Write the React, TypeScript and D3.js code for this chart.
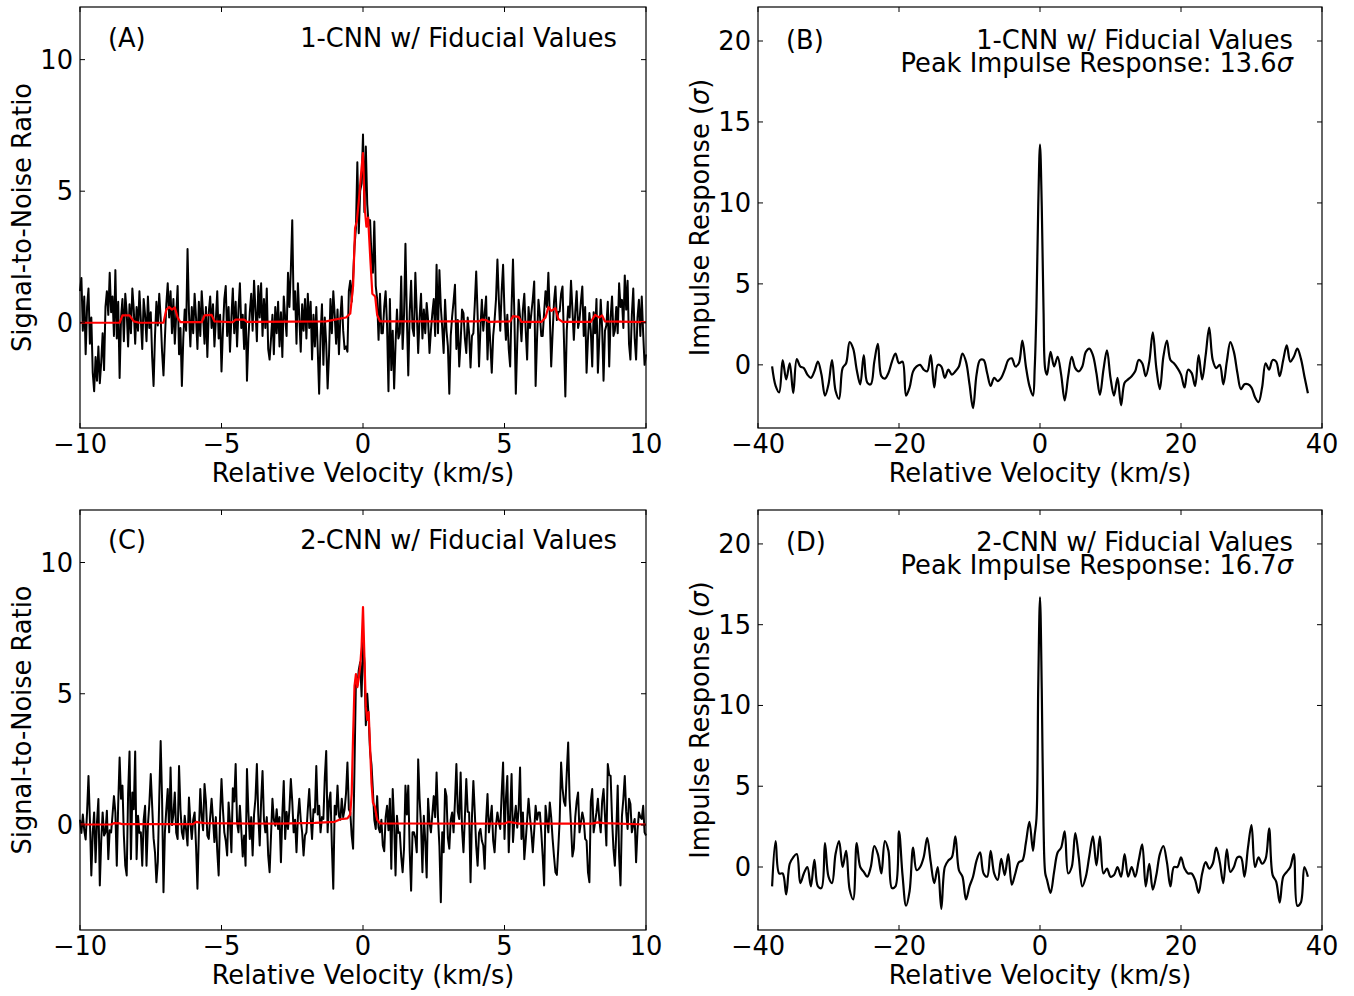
import React from 'react';
import * as d3 from 'd3';

// ---------- DATA ----------
// Panels A / C: velocity grid -10..10 km/s, step 0.05
const snrStart = -10;
const snrStep = 0.05;

const snrA = [
  1.2, 1.7, -0.3, 1.0, -1.2, 0.6, 1.3, -0.8, 0.2, -1.9, -2.6, -1.3, -2.2, -0.9, -2.3, -1.5, -0.4, -1.8, 0.6, 1.2,
  0.3, 1.9, 0.4, 1.0, -0.5, 2.0, -0.6, 0.8, -2.1, 0.2, 0.9, -0.7, 1.1, 0.4, -0.9, 0.7, -0.4, 1.3, 0.5, -0.8,
  0.6, -0.3, 1.2, 0.1, -1.0, 0.9, 0.3, -0.7, 1.0, -0.2, 0.4, -1.3, -2.4, -0.5, 0.8, -0.1, 1.1, 0.2, -1.1, -2.0,
  -0.6, 0.7, 1.5, 0.2, 1.2, -0.4, 0.9, -0.8, 0.3, 1.4, -1.2, -0.2, -2.4, -0.6, 0.5, -0.3, 2.8, 0.4, -0.9, 0.6,
  -0.4, 1.1, 0.2, -1.0, 0.8, -0.5, 1.2, 0.3, -0.8, 0.6, -1.3, 0.4, 1.0, -0.2, 0.7, -0.9, 0.1, 1.2, -0.6, 0.3,
  -1.85, -0.3, 0.9, 1.4, -0.5, 0.6, -1.1, 0.2, 1.3, -0.4, 0.8, -0.9, 0.5, 1.5, -0.2, 0.3, -1.0, 0.7, -2.2, -0.6,
  0.4, 1.1, -0.3, 1.6, 0.5, -0.7, 1.4, 0.2, 1.5, -0.5, 0.9, -0.2, 1.3, -1.0, -1.4, -0.6, 0.3, -1.2, 0.6, -0.4,
  0.8, -0.9, 0.4, -1.3, 1.0, 0.2, -0.5, 1.9, 0.6, 2.0, 3.9, 0.5, 1.2, -0.8, 1.5, 0.2, -1.1, 0.7, -0.3, 0.9,
  -0.6, 1.1, -0.2, 0.8, -1.4, 0.3, -0.9, 0.6, -1.0, -2.7, -0.5, 0.7, -1.6, 0.2, -0.8, -2.5, -1.2, 0.9, -0.4, 1.2,
  0.3, -0.8, 0.5, -1.2, 0.2, 1.0, -0.3, -1.0, -0.9, -1.1, 1.2, 1.6, 0.8, 1.7, 2.9, 3.6, 6.1, 3.4, 5.0, 5.3,
  7.15, 4.2, 6.7, 4.5, 3.7, 3.9, 2.5, 1.9, 3.85, 1.4, 0.9, -0.65, 1.1, -0.4, -0.4, 0.6, 1.2, -0.1, -2.6, 0.9,
  -1.8, -0.3, -2.5, -0.8, 0.5, -0.6, -0.4, 1.76, -1.0, 0.3, 3.0, 0.2, -2.0, 0.4, 1.6, -0.2, -0.5, 1.9, 0.4, -1.15,
  0.2, 1.1, -0.6, 0.5, -0.4, 0.75, 0.1, -1.15, -0.3, 0.37, 0.9, -0.5, 2.2, -0.4, 2.0, 0.6, -0.2, -1.15, 0.87, -0.3,
  -0.9, -2.7, -0.5, 0.24, 0.8, 1.44, -1.0, 0.1, -1.66, -0.7, 0.5, 0.37, -0.6, -1.15, 0.2, -0.4, -1.7, -0.5, -0.4, 0.7,
  1.95, 0.3, -1.66, -0.2, 0.87, -0.3, 0.37, 1.0, -1.4, 0.2, -0.8, -1.9, -0.5, 0.1, 0.9, 2.4, 0.87, -0.3, 1.2, 2.2,
  0.4, -0.65, 0.3, -1.0, -1.66, 0.6, 2.4, 0.24, -2.7, -0.8, 0.87, 0.2, -0.7, 0.5, 1.1, -0.3, -1.4, 0.6, -0.2, 0.37,
  0.9, 1.57, -2.4, -0.6, 0.87, 0.3, -0.5, -0.5, 0.4, 1.2, 0.6, 1.9, 0.3, -1.66, -0.4, 0.8, 1.38, 0.1, 0.4, 0.43,
  1.1, 1.38, -0.6, -2.8, -0.3, 0.62, 0.2, 1.6, 0.5, -0.65, 0.4, 1.2, -0.2, 0.1, 0.8, 1.38, -0.5, 0.6, -1.9, -0.6,
  0.37, -0.3, -1.66, 0.4, -0.4, 0.9, -1.9, -0.6, 0.87, -0.2, -2.2, -0.3, -0.1, 0.8, -1.66, 0.2, 1.0, -0.5, -0.3, 0.6,
  -0.4, 1.5, 0.6, 0.87, -0.2, 1.8, 0.5, 1.6, -0.8, -1.4, 0.3, 1.3, -0.6, -1.4, 0.2, 0.87, -0.5, 1.0, -0.4, -1.6,
  -1.2,
];

const snrC = [
  0.2, -0.3, 0.4, -0.2, -0.55, 0.5, 1.87, 0.2, -1.92, -0.3, 0.48, -1.42, 0.1, 0.99, -2.3, -0.6, 0.48, -0.4, -0.28, 0.54,
  -1.3, -0.2, -0.28, 0.4, 1.1, 0.48, -1.55, 0.8, 2.57, 1.0, 1.5, -0.4, -1.55, -1.92, 1.2, 2.8, -1.3, 1.24, 0.6, 2.8,
  -1.3, 0.35, -0.3, -0.28, -1.55, 0.2, 0.73, -1.55, 0.0, 0.8, 1.94, 0.73, -0.5, -1.04, -2.18, -1.4, 1.0, 3.2, 1.0, -2.56,
  -0.28, 0.6, 1.37, -0.28, 2.19, 0.0, 0.4, 1.24, -0.3, -0.53, 2.25, 0.6, -0.28, -0.53, 0.35, -0.2, -0.78, 1.05, 0.1, -0.53,
  0.2, 0.48, -0.8, -2.43, -0.3, 1.37, 0.35, -0.2, 1.56, 0.9, -0.4, -0.53, 0.3, 1.0, 0.2, -0.65, 0.3, -1.0, -1.92, 0.4,
  1.75, 0.6, -0.28, -0.6, -1.16, 0.86, 0.1, -1.04, 1.4, 0.9, 2.32, 0.1, -0.28, 0.73, -0.2, -1.2, -0.4, -1.55, 2.13, 0.5,
  -0.53, 0.3, -1.16, 0.4, 1.0, 2.32, 0.4, -0.78, 0.9, 2.06, 0.2, -0.28, 0.3, -1.16, -1.8, -0.4, 1.0, 0.2, -0.03, 0.6,
  -0.15, 0.3, -1.42, 0.4, 1.68, -0.53, 0.5, -0.15, 0.6, 1.75, 0.9, -0.28, 0.2, -1.04, 0.3, 1.0, 0.2, -0.28, -1.16, -0.4,
  -0.28, 0.6, 1.37, 0.3, -0.53, 0.6, 0.48, 2.25, 0.4, 0.73, -0.28, 0.3, 0.23, 1.8, 2.82, -0.28, 0.9, 1.24, -0.8, -2.43,
  0.73, 0.4, 1.5, 0.35, 0.2, 1.0, 0.3, 0.6, 1.2, 2.38, 0.6, 0.48, -0.4, -0.9, 2.25, 5.5, 5.3, 5.9, 6.2, 4.9,
  7.0, 6.2, 3.8, 5.0, 4.1, 2.8, 2.3, 1.3, 0.2, -0.15, 1.1, -0.1, -0.28, 0.2, -0.78, -1.0, 0.3, 0.73, -0.2, 1.0,
  -1.67, 1.37, 0.1, -1.92, 0.35, -0.3, -0.28, -1.2, -1.8, -0.9, 1.5, 0.4, 1.5, -1.0, -2.5, -0.28, -0.28, -0.5, -1.04, 2.5,
  1.0, 0.0, -1.8, 0.35, -0.6, -2.0, 1.0, 0.1, -0.28, 0.4, 1.1, 0.3, 2.0, 0.3, -0.8, -2.94, -0.28, -1.04, 1.37, 1.1,
  -0.5, -0.9, 0.2, 0.48, -0.28, 0.9, 2.32, 0.5, 0.23, 2.0, -0.15, -1.04, 0.3, 1.75, 0.5, 0.48, -2.18, 0.3, 1.68, 0.48,
  -0.8, -1.55, -0.3, -0.15, -0.6, -0.78, -1.67, 0.2, 1.18, -0.28, 0.2, 0.73, -0.6, -1.04, 0.0, 0.48, 0.1, -0.15, 1.2, 2.38,
  -0.53, 1.0, 1.87, -1.04, 0.4, 1.94, -0.65, 0.2, 0.73, -0.1, 0.6, 2.19, -0.53, 0.48, -1.3, -0.6, 0.2, 1.0, 0.3, -0.28,
  -1.04, -0.2, 0.73, 0.2, 0.48, 0.48, -0.28, -1.2, -2.3, 0.73, 0.2, -0.28, 0.86, 0.3, -0.53, -1.2, -1.8, -1.9, -0.9, 0.2,
  2.38, 1.4, 0.9, 0.73, 2.0, 3.14, 1.0, 0.0, -1.2, -0.9, 0.3, 0.9, 1.24, -0.28, 0.1, 0.48, 0.2, -0.53, -0.6, -1.8,
  -2.18, 0.9, 1.37, -0.28, 0.1, 0.48, 1.0, 0.2, -0.28, 0.9, 1.37, 0.35, -0.78, 2.32, 1.9, 1.87, 0.23, -0.9, -1.55, -0.28,
  1.5, -1.2, -2.3, 0.35, 1.0, 1.87, 0.5, -0.15, 1.0, 0.8, -0.28, 0.0, 0.23, -1.42, -0.2, 0.48, 0.3, 0.23, 0.73, -0.28,
  -0.4,
];

// Red model fits (velocity, S/N) knots
const modelAV = [-10, -8.6, -8.5, -8.25, -8.1, -7.9, -7.05, -6.95, -6.85, -6.75, -6.65, -6.55, -6.45, -5.7, -5.6, -5.35, -5.25, -4.6, -4.5, -4.2, -4.1, -1.3, -1.0, -0.6, -0.45, -0.35, -0.28, -0.22, -0.15, -0.05, 0.0, 0.06, 0.12, 0.18, 0.26, 0.33, 0.43, 0.5, 0.6, 4.1, 4.2, 4.35, 4.45, 5.2, 5.3, 5.5, 5.6, 6.3, 6.45, 6.55, 6.65, 6.8, 6.9, 7.05, 8.05, 8.2, 8.35, 8.45, 8.55, 10];
const modelAS = [0, 0, 0.28, 0.28, 0.05, 0, 0, 0.5, 0.6, 0.5, 0.58, 0.2, 0.02, 0.02, 0.28, 0.3, 0.05, 0.02, 0.12, 0.12, 0.03, 0.05, 0.12, 0.2, 0.35, 1.4, 3.6, 3.85, 4.6, 5.9, 6.45, 4.4, 3.65, 4.0, 2.4, 1.1, 1.0, 0.3, 0.05, 0.05, 0.12, 0.1, 0.03, 0.05, 0.25, 0.22, 0.03, 0.03, 0.2, 0.6, 0.45, 0.55, 0.15, 0.03, 0.03, 0.3, 0.2, 0.28, 0.05, 0.02];

const modelCV = [-10, -8.9, -8.8, -8.6, -8.5, -6.0, -5.9, -5.8, -5.6, -3.0, -1.7, -1.0, -0.8, -0.55, -0.45, -0.4, -0.35, -0.3, -0.25, -0.2, -0.15, -0.1, -0.05, 0.0, 0.05, 0.1, 0.15, 0.2, 0.25, 0.3, 0.35, 0.42, 0.5, 0.6, 5.0, 5.15, 5.3, 5.5, 8.1, 8.3, 8.5, 10];
const modelCS = [0.02, 0.02, 0.07, 0.06, 0.03, 0.03, 0.12, 0.1, 0.07, 0.05, 0.08, 0.12, 0.22, 0.25, 0.4, 1.2, 3.4, 5.3, 5.75, 5.25, 5.6, 6.05, 6.8, 8.3, 6.4, 4.5, 4.0, 4.3, 3.0, 1.6, 0.86, 0.7, 0.2, 0.06, 0.05, 0.12, 0.09, 0.05, 0.05, 0.1, 0.07, 0.02];

// Panels B / D: velocity grid -38..38 km/s, step 0.5 (+ extra samples across the peak)
const impStart = -38;
const impStep = 0.5;

const impB = [
  -0.1, -1.3, -1.7, 0.3, -0.9, 0.1, -1.75, 0.35, -0.1, -0.2, -0.6, -0.8, -0.4, 0.2, -0.6, -1.9, -1.2, 0.3, -1.6, -2.1,
  -0.2, 0.1, 1.4, 1.0, -0.3, -1.2, 0.6, -1.1, -1.2, 0.2, 1.3, -0.7, -0.85, -0.5, 0.2, 0.7, 0.1, 0.2, -1.9, -1.4,
  -0.4, -0.1, 0.0, -0.3, -0.4, 0.6, -1.4, 0.0, -0.1, -0.8, -0.3, -0.6, -0.4, -0.1, 0.7, 0.2, -1.2, -2.67, -0.6, 0.3,
  0.3, -0.5, -1.3, -0.8, -1.0, -0.8, -0.3, 0.3, 0.4, -0.1, 0.1, 1.5, -0.1, -1.3, -1.9, 3.6, 13.6, 3.4, -0.6, 0.8,
  -0.1, 0.5, -0.6, -2.2, -0.7, 0.5, -0.2, -0.4, -0.1, 0.8, 1.0, 0.6, -0.5, -1.85, -0.3, 0.9, -0.8, -1.9, -0.8, -2.5,
  -1.1, -0.9, -0.7, -0.4, 0.3, 0.1, -0.7, 0.2, 2.0, -0.2, -1.5, 0.5, 1.5, 0.3, 0.1, -0.2, -0.6, -1.4, -0.3, -0.5,
  -1.3, 0.6, -0.9, 0.6, 2.3, 0.3, -0.2, 0.0, -1.2, 0.2, 1.4, 0.8, -0.5, -1.5, -1.2, -1.2, -1.4, -2.0, -2.3, -1.4,
  0.1, -0.3, 0.3, 0.2, -0.7, 0.3, 1.2, 0.2, 0.5, 1.0, 0.4, -0.7, -1.75,
];

const impD = [
  -1.2, 1.6, -0.4, -0.4, -1.7, 0.2, 0.6, 0.8, -1.0, -0.4, 0.0, -1.2, 0.45, -1.2, -1.3, 1.48, -0.6, -1.0, 0.8, 1.6,
  0.0, 1.0, -1.4, -2.0, 1.48, 0.0, -0.3, -0.6, 0.0, 1.3, 0.8, -0.4, 1.6, 1.0, -1.3, -1.2, 2.2, -0.5, -2.4, -1.5,
  1.2, -0.2, 0.0, 0.6, 1.8, 0.3, -1.0, 0.0, -2.6, 0.0, 0.4, 0.6, 1.9, -0.2, -0.6, -2.0, -1.2, -0.6, 0.4, 0.9,
  -0.4, -0.6, 1.0, -0.4, -0.8, 0.5, -0.5, 0.8, -1.1, -0.4, 0.3, 0.4, 1.5, 2.8, 1.0, 3.0, 16.7, 2.6, -0.8, -1.6,
  -0.3, 0.9, 1.2, 2.2, -0.4, 0.0, 2.1, 0.6, -1.2, -0.6, 0.7, 1.9, 0.1, 1.9, -0.4, -0.1, -0.6, -0.5, 0.0, -0.6,
  0.8, -0.6, 0.0, -0.6, 0.4, 1.4, -1.2, 0.2, -1.4, -0.5, 0.8, 1.3, 0.3, -1.2, 0.0, 0.0, 0.6, -0.1, -0.4, -0.4,
  -0.8, -1.6, -0.4, 0.3, -0.1, 0.2, 1.2, 0.3, -1.0, 1.1, -0.3, 0.0, 0.6, 0.6, -0.6, 1.2, 2.6, 0.0, 0.6, 0.2,
  0.5, 2.4, -0.5, -0.9, -2.2, -0.6, -0.3, 0.0, 0.8, -2.4, -2.2, 0.0, -0.6,
];

const peakV = [-0.75, -0.25, 0.25, 0.75];
const peakB = [-0.2, 9.8, 9.8, -0.3];
const peakD = [2.0, 11.2, 11.0, -0.4];

// Axis ticks
const snrXTicks = [-10, -5, 0, 5, 10];
const snrYTicks = [0, 5, 10];
const impXTicks = [-40, -20, 0, 20, 40];
const impYTicks = [0, 5, 10, 15, 20];

// ---------- helpers ----------
const FONT = "'DejaVu Sans', 'Liberation Sans', sans-serif";
const FS = 25.7;

type Pt = [number, number];

function gridSeries(start: number, step: number, vals: number[]): Pt[] {
  return vals.map((s, i) => [start + step * i, s] as Pt);
}
function zipSeries(vs: number[], ss: number[]): Pt[] {
  return vs.map((v, i) => [v, ss[i]] as Pt);
}
function merged(a: Pt[], b: Pt[]): Pt[] {
  return [...a, ...b].sort((p, q) => p[0] - q[0]);
}
function fmt(t: number): string {
  return t < 0 ? '\u2212' + Math.abs(t) : String(t);
}

type PanelProps = {
  left: number; right: number; top: number; bottom: number;
  xDomain: [number, number]; yDomain: [number, number];
  xTicks: number[]; yTicks: number[];
  ylabel: React.ReactNode;
  data: Pt[];
  smooth?: boolean;
  model?: Pt[];
  letter: string;
  lines: React.ReactNode[];
  lineY: number[];
};

function Panel(p: PanelProps) {
  const x = d3.scaleLinear().domain(p.xDomain).range([p.left, p.right]);
  const y = d3.scaleLinear().domain(p.yDomain).range([p.bottom, p.top]);
  const line = d3.line<Pt>().x(d => x(d[0])).y(d => y(d[1]));
  if (p.smooth) line.curve(d3.curveCatmullRom.alpha(0.5));
  const lineM = d3.line<Pt>().x(d => x(d[0])).y(d => y(d[1]));
  const TL = 5;
  const cy = (p.top + p.bottom) / 2;
  const cx = (p.left + p.right) / 2;
  return (
    <g>
      <path d={line(p.data) || ''} fill="none" stroke="#000" strokeWidth={p.smooth ? 2.2 : 2.0} strokeLinejoin="round" />
      {p.model && (
        <path d={lineM(p.model) || ''} fill="none" stroke="#ff0000" strokeWidth={2.2} strokeLinejoin="round" />
      )}
      <rect x={p.left} y={p.top} width={p.right - p.left} height={p.bottom - p.top} fill="none" stroke="#000" strokeWidth={1.2} />
      {p.xTicks.map(t => (
        <g key={'x' + t}>
          <line x1={x(t)} x2={x(t)} y1={p.bottom} y2={p.bottom - TL} stroke="#000" strokeWidth={1} />
          <line x1={x(t)} x2={x(t)} y1={p.top} y2={p.top + TL} stroke="#000" strokeWidth={1} />
          <text x={x(t)} y={p.bottom + 25} textAnchor="middle" fontFamily={FONT} fontSize={FS}>{fmt(t)}</text>
        </g>
      ))}
      {p.yTicks.map(t => (
        <g key={'y' + t}>
          <line x1={p.left} x2={p.left + TL} y1={y(t)} y2={y(t)} stroke="#000" strokeWidth={1} />
          <line x1={p.right} x2={p.right - TL} y1={y(t)} y2={y(t)} stroke="#000" strokeWidth={1} />
          <text x={p.left - 7} y={y(t) + 9} textAnchor="end" fontFamily={FONT} fontSize={FS}>{fmt(t)}</text>
        </g>
      ))}
      <text x={cx} y={p.bottom + 54} textAnchor="middle" fontFamily={FONT} fontSize={FS}>Relative Velocity (km/s)</text>
      <text transform={`translate(${p.left - 49},${cy}) rotate(-90)`} textAnchor="middle" fontFamily={FONT} fontSize={FS}>{p.ylabel}</text>
      <text x={p.left + 28} y={p.top + p.lineY[0]} fontFamily={FONT} fontSize={FS}>{p.letter}</text>
      <text x={p.right - 29} y={p.top + p.lineY[0]} textAnchor="end" fontFamily={FONT} fontSize={FS}>
        {p.lines.map((l, i) => (
          <tspan key={i} x={p.right - 29} y={p.top + p.lineY[i]}>{l}</tspan>
        ))}
      </text>
    </g>
  );
}

export default function App() {
  const serA = gridSeries(snrStart, snrStep, snrA);
  const serC = gridSeries(snrStart, snrStep, snrC);
  const serB = merged(gridSeries(impStart, impStep, impB), zipSeries(peakV, peakB));
  const serD = merged(gridSeries(impStart, impStep, impD), zipSeries(peakV, peakD));
  const mA = zipSeries(modelAV, modelAS);
  const mC = zipSeries(modelCV, modelCS);

  const snrLabel = 'Signal-to-Noise Ratio';
  const impLabel = (<>Impulse Response (<tspan fontStyle="italic">σ</tspan>)</>);

  return (
    <svg width={1354} height={996} style={{ position: 'absolute', left: 0, top: 0, background: '#fff' }}>
      <rect x={0} y={0} width={1354} height={996} fill="#fff" />
      <Panel left={80} right={646} top={7} bottom={428} xDomain={[-10, 10]} yDomain={[-4, 12]}
        xTicks={snrXTicks} yTicks={snrYTicks} ylabel={snrLabel} data={serA} model={mA}
        letter="(A)" lines={['1-CNN w/ Fiducial Values']} lineY={[40]} />
      <Panel left={758} right={1322} top={7} bottom={428} xDomain={[-40, 40]} yDomain={[-3.9, 22.1]}
        xTicks={impXTicks} yTicks={impYTicks} ylabel={impLabel} data={serB} smooth
        letter="(B)" lines={['1-CNN w/ Fiducial Values', (<>Peak Impulse Response: 13.6<tspan fontStyle="italic">σ</tspan></>)]} lineY={[42, 65]} />
      <Panel left={80} right={646} top={510} bottom={930} xDomain={[-10, 10]} yDomain={[-4, 12]}
        xTicks={snrXTicks} yTicks={snrYTicks} ylabel={snrLabel} data={serC} model={mC}
        letter="(C)" lines={['2-CNN w/ Fiducial Values']} lineY={[39]} />
      <Panel left={758} right={1322} top={510} bottom={930} xDomain={[-40, 40]} yDomain={[-3.9, 22.1]}
        xTicks={impXTicks} yTicks={impYTicks} ylabel={impLabel} data={serD} smooth
        letter="(D)" lines={['2-CNN w/ Fiducial Values', (<>Peak Impulse Response: 16.7<tspan fontStyle="italic">σ</tspan></>)]} lineY={[41, 64]} />
    </svg>
  );
}
